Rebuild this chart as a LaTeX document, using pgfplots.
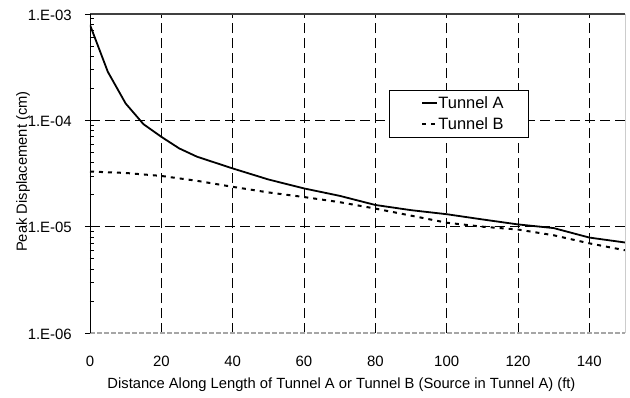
\documentclass[border=0pt]{standalone}
\usepackage{fontspec}
\setmainfont{Liberation Sans}
\usepackage{pgfplots}
\pgfplotsset{compat=1.18}
\begin{document}
\begin{tikzpicture}
\useasboundingbox (-90bp,-65bp) rectangle (540bp,333bp);
\begin{axis}[
  name=ax,
  at={(0,0)}, anchor=south west,
  scale only axis, width=535bp, height=319bp,
  xmin=0, xmax=150, ymin=1e-6, ymax=1e-3,
  ymode=log,
  axis line style={draw=none},
  tick pos=left,
  xtick={0,20,...,140},
  ytick={1e-6,1e-5,1e-4,1e-3},
  yticklabels={1.E-06,1.E-05,1.E-04,1.E-03},
  x tick style={draw=none},
  y tick style={black, line width=0.8bp},
  major tick length=10bp,
  minor tick length=4bp,
  tick align=center,
  minor y tick style={xshift=2bp},
  xmajorgrids,
  major x grid style={black, line width=0.7bp, dash pattern=on 10bp off 5bp},
  /pgf/number format/assume math mode=true,
  tick label style={font=\fontsize{15}{18}\selectfont},
  xticklabel style={anchor=base, yshift=-29bp},
  yticklabel style={anchor=east, inner sep=0pt, xshift=-13bp, yshift=-1bp},
  xlabel={Distance Along Length of Tunnel A or Tunnel B (Source in Tunnel A) (ft)},
  ylabel={Peak Displacement (cm)},
  label style={font=\fontsize{14.8}{17}\selectfont},
  xlabel style={at={(rel axis cs:0.47,-0.1755)}, anchor=base},
  ylabel style={at={(rel axis cs:-0.1178,0.506)}, anchor=base, rotate=0},
  legend style={at={(rel axis cs:0.559,0.762)}, anchor=north west, draw=black,
    line width=0.8bp, fill=white, font=\fontsize{16.5}{19}\selectfont,
    inner xsep=0bp, inner ysep=6bp, row sep=8bp,
    nodes={inner sep=0pt},
    /tikz/every even column/.style={column sep=2bp}},
  legend cell align=left,
  legend image code/.code={\path[draw=none] (0bp,0bp) -- (33bp,0bp); \draw[#1] (33bp,0bp) -- (48bp,0bp);},
]
\draw[black, line width=0.7bp, dash pattern=on 10bp off 5bp] (rel axis cs:0,0.33333) -- (rel axis cs:1,0.33333);
\draw[black, line width=0.7bp, dash pattern=on 10bp off 5bp] (rel axis cs:0,0.66667) -- (rel axis cs:1,0.66667);
\addplot[black, line width=1.8bp] coordinates {
(0,7.9e-4) (5,2.86e-4) (10,1.44e-4) (15,9.2e-5) (20,7.0e-5) (25,5.45e-5)
(30,4.55e-5) (40,3.53e-5) (50,2.78e-5) (60,2.29e-5) (70,1.95e-5) (80,1.6e-5)
(90,1.43e-5) (100,1.31e-5) (110,1.17e-5) (120,1.05e-5) (130,9.7e-6)
(140,7.9e-6) (150,7.1e-6)
};
\addlegendentry{\makebox[90bp][l]{Tunnel A}}
\addplot[black, line width=2bp, dash pattern=on 4bp off 5bp] coordinates {
(0,3.3e-5) (10,3.2e-5) (20,3.0e-5) (30,2.7e-5) (40,2.37e-5) (50,2.1e-5)
(60,1.9e-5) (70,1.7e-5) (80,1.48e-5) (90,1.27e-5) (100,1.09e-5) (110,1.0e-5)
(120,9.4e-6) (130,8.3e-6) (140,6.97e-6) (150,6.0e-6)
};
\addlegendentry{\makebox[90bp][l]{Tunnel B}}
\end{axis}
\draw[gray!50!black, line width=1.5bp] (ax.north west) -- (ax.north east);
\draw[gray!40, line width=1bp] (ax.north east) -- (ax.south east);
\draw[gray!70, line width=1.2bp, dash pattern=on 5bp off 2bp] (ax.south west) -- (ax.south east);
\draw[black, line width=1bp] (ax.south west) -- (ax.north west);
\end{tikzpicture}
\end{document}
